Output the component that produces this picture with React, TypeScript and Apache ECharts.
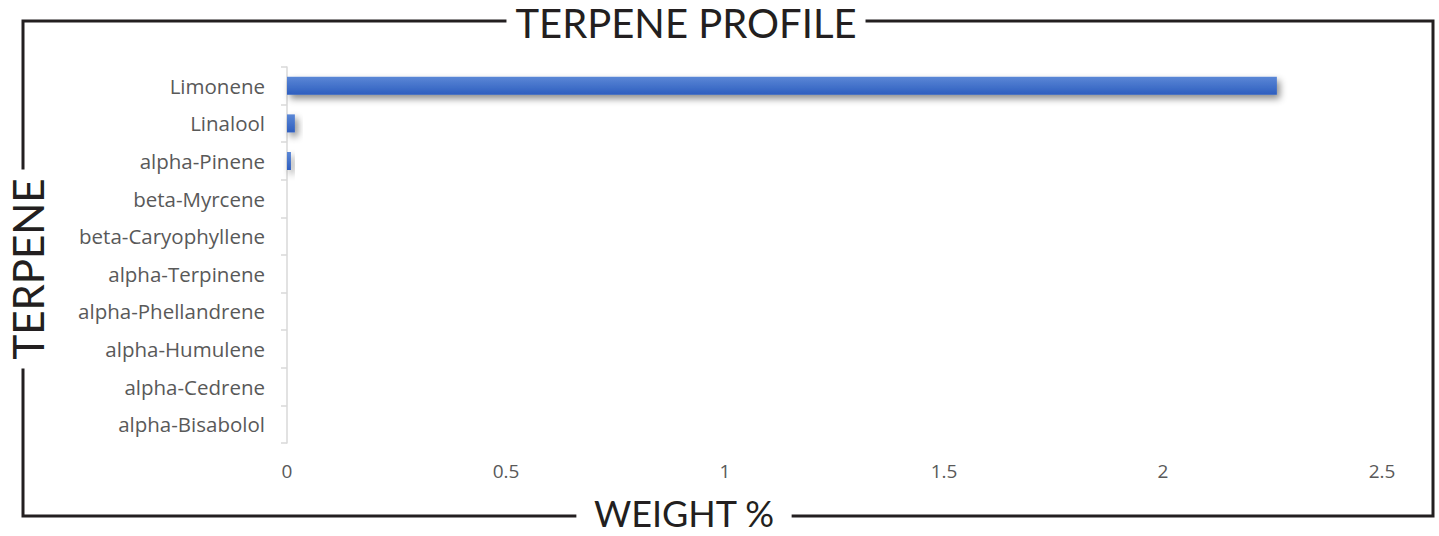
import React, { useEffect, useRef } from "react";
import * as echarts from "echarts";

const categories = [
  "Limonene",
  "Linalool",
  "alpha-Pinene",
  "beta-Myrcene",
  "beta-Caryophyllene",
  "alpha-Terpinene",
  "alpha-Phellandrene",
  "alpha-Humulene",
  "alpha-Cedrene",
  "alpha-Bisabolol",
];
const weights = [2.26, 0.018, 0.009, 0, 0, 0, 0, 0, 0, 0];
const xTicks = { min: 0, max: 2.5, interval: 0.5 };

const titleText = "TERPENE PROFILE";
const yTitle = "TERPENE";
const xTitle = "WEIGHT %";

export default function App() {
  const ref = useRef<HTMLDivElement>(null);
  useEffect(() => {
    if (!ref.current) return;
    const chart = echarts.init(ref.current, undefined, { renderer: "svg" });
    const fam = "Lato, 'Noto Sans', sans-serif";
    chart.setOption({
      animation: false,
      backgroundColor: "#ffffff",
      grid: { left: 287, right: 57, top: 67, bottom: 93, containLabel: false },
      xAxis: {
        type: "value",
        min: xTicks.min,
        max: xTicks.max,
        interval: xTicks.interval,
        axisLine: { show: false },
        axisTick: { show: false },
        splitLine: { show: false },
        axisLabel: {
          color: "#595959",
          fontSize: 19,
          fontFamily: "'Open Sans', sans-serif",
          margin: 18,
        },
      },
      yAxis: {
        type: "category",
        data: categories,
        inverse: true,
        axisLine: { show: true, lineStyle: { color: "#d9d9d9", width: 1.5 } },
        axisTick: { show: true, length: 6, lineStyle: { color: "#d9d9d9", width: 1.5 } },
        axisLabel: {
          color: "#595959",
          fontSize: 20.5,
          fontFamily: "'Open Sans', sans-serif",
          margin: 22,
        },
        splitLine: { show: false },
      },
      series: [
        {
          type: "bar",
          data: weights,
          barWidth: "48%",
          itemStyle: {
            color: new echarts.graphic.LinearGradient(0, 0, 0, 1, [
              { offset: 0, color: "#5b87d6" },
              { offset: 1, color: "#2e5ebf" },
            ]),
            shadowColor: "rgba(0,0,0,0.45)",
            shadowBlur: 7,
            shadowOffsetX: 3,
            shadowOffsetY: 4,
          },
        },
      ],
      graphic: [
        {
          type: "rect",
          z: 10,
          shape: { x: 23, y: 21, width: 1410, height: 495 },
          style: { fill: "none", stroke: "#231f20", lineWidth: 3 },
        },
        {
          type: "text",
          z: 20,
          x: 686,
          y: 23,
          style: {
            text: titleText,
            fontFamily: fam,
            fontSize: 40,
            lineHeight: 34,
            fill: "#231f20",
            align: "center",
            verticalAlign: "middle",
            backgroundColor: "#ffffff",
            padding: [0, 9],
          },
        },
        {
          type: "text",
          z: 20,
          x: 684,
          y: 513,
          style: {
            text: xTitle,
            fontFamily: fam,
            fontSize: 36,
            lineHeight: 30,
            fill: "#231f20",
            align: "center",
            verticalAlign: "middle",
            backgroundColor: "#ffffff",
            padding: [0, 17],
          },
        },
        {
          type: "text",
          z: 20,
          x: 28,
          y: 269,
          rotation: Math.PI / 2,
          style: {
            text: yTitle,
            fontFamily: fam,
            fontSize: 42,
            lineHeight: 34,
            fill: "#231f20",
            align: "center",
            verticalAlign: "middle",
            backgroundColor: "#ffffff",
            padding: [0, 9],
          },
        },
      ],
    });
    return () => chart.dispose();
  }, []);
  return (
    <div
      ref={ref}
      style={{ position: "fixed", left: 0, top: 0, width: 1439, height: 536 }}
    />
  );
}
